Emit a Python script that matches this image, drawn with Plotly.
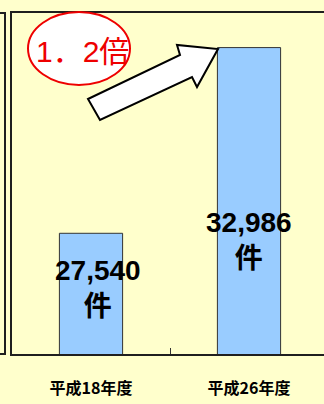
import plotly.graph_objects as go

# Data
categories = ["平成18年度", "平成26年度"]
counts = [27540, 32986]
ratio_label = "1．2倍"
# vertical centre of each value label, in axis units, and its horizontal nudge in px
label_y = [25935, 27314]
label_dx = [7, 0]

W, H = 324, 404
M_L, M_R, M_T, M_B = 12, 0, 13, 50
PW, PH = W - M_L - M_R, H - M_T - M_B

BG = "#FFFFCC"
FRAME = "#1f1f1f"


def px(x):
    return (x - M_L) / PW


def py(y):
    return (H - M_B - y) / PH


fig = go.Figure()
fig.add_trace(go.Bar(
    x=categories,
    y=counts,
    width=0.4,
    marker=dict(color="#99CCFF", line=dict(color="#333333", width=1)),
    hoverinfo="skip",
))

# value labels inside the bars
for cat, val, yy, dx in zip(categories, counts, label_y, label_dx):
    fig.add_annotation(
        x=cat, y=yy, xref="x", yref="y", xshift=dx,
        text=f"{val:,}<br>件",
        showarrow=False, yanchor="middle",
        font=dict(family="Liberation Sans, Noto Sans CJK JP", size=28,
                  color="black", weight="bold"),
    )

shapes = []
# partial neighbouring frame at the far left
shapes.append(dict(
    type="path", xref="paper", yref="paper",
    path=f"M {px(-2)},{py(13)} L {px(5)},{py(13)} L {px(5)},{py(354)} L {px(-2)},{py(354)}",
    line=dict(color=FRAME, width=2),
))

# growth arrow
pts = [(88, 99), (180, 55), (177, 45), (218, 49), (197, 87), (192, 77), (100, 120)]
path = "M " + " L ".join(f"{px(a)},{py(b)}" for a, b in pts) + " Z"
shapes.append(dict(
    type="path", xref="paper", yref="paper", path=path,
    fillcolor="white", line=dict(color="black", width=2),
))

# ratio ellipse
shapes.append(dict(
    type="circle", xref="paper", yref="paper",
    x0=px(28), x1=px(130), y0=py(85), y1=py(12),
    fillcolor="white", line=dict(color="#EE0000", width=2),
))
fig.update_layout(shapes=shapes)

fig.add_annotation(
    x=px(82), y=py(51), xref="paper", yref="paper",
    text=ratio_label, showarrow=False, yanchor="middle", xanchor="center",
    font=dict(family="Liberation Sans, Noto Sans CJK JP", size=30, color="#EE0000"),
)

fig.update_xaxes(
    range=[-0.5, -0.5 + PW / 158],
    showline=True, linecolor=FRAME, linewidth=2, mirror=True,
    tickson="boundaries", ticks="inside", ticklen=6, tickcolor="#333333", tickwidth=1,
    ticklabelstandoff=19,
    tickfont=dict(family="Noto Sans CJK JP", size=16, color="black", weight="bold"),
    showgrid=False, zeroline=False, fixedrange=True,
)
fig.update_yaxes(
    range=[24000, 34000],
    showline=True, linecolor=FRAME, linewidth=2, mirror=False,
    showticklabels=False, ticks="", showgrid=False, zeroline=False, fixedrange=True,
)

fig.update_layout(
    width=W, height=H,
    margin=dict(l=M_L, r=M_R, t=M_T, b=M_B, pad=0),
    paper_bgcolor=BG, plot_bgcolor=BG,
    showlegend=False,
)

fig.write_html("out.html", config={"displayModeBar": False})
